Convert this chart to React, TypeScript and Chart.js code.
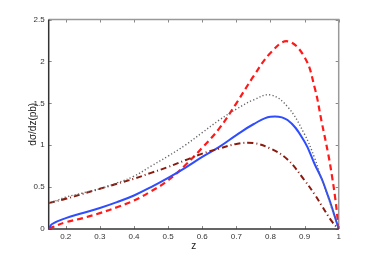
import React, { useEffect, useRef } from "react";
import { Chart, registerables } from "chart.js";

Chart.register(...registerables);

const zGrid = [0.15, 0.16, 0.2, 0.25, 0.3, 0.35, 0.4, 0.45, 0.5, 0.55, 0.6, 0.65, 0.7, 0.75, 0.8, 0.85, 0.9, 0.93, 0.95, 0.97, 0.98, 0.99, 1.0];
const redDashed = [0, 0.02, 0.08, 0.13, 0.19, 0.26, 0.34, 0.45, 0.58, 0.76, 0.97, 1.2, 1.5, 1.82, 2.1, 2.24, 2.05, 1.68, 1.28, 0.88, 0.64, 0.36, 0];
const blueSolid = [0, 0.06, 0.13, 0.19, 0.25, 0.32, 0.4, 0.5, 0.61, 0.73, 0.86, 0.98, 1.12, 1.25, 1.34, 1.3, 1.04, 0.77, 0.6, 0.38, 0.26, 0.13, 0];
const greyDotted = [0.31, 0.32, 0.38, 0.43, 0.48, 0.55, 0.63, 0.75, 0.87, 1.0, 1.15, 1.3, 1.43, 1.54, 1.6, 1.46, 1.13, 0.84, 0.6, 0.37, 0.24, 0.12, 0];
const darkDashDot = [0.31, 0.32, 0.36, 0.42, 0.48, 0.54, 0.6, 0.67, 0.74, 0.82, 0.9, 0.96, 1.015, 1.025, 0.96, 0.83, 0.58, 0.41, 0.28, 0.15, 0.09, 0.04, 0];

const xTicks = [0.2, 0.3, 0.4, 0.5, 0.6, 0.7, 0.8, 0.9, 1];
const yTicks = [0, 0.5, 1, 1.5, 2, 2.5];
const xTitle = "z";
const yTitle = "dσ/dz(pb)";

const pts = (vals: number[]) => zGrid.map((z, i) => ({ x: z, y: vals[i] }));

const framePlugin = {
  id: "frame",
  beforeDatasetsDraw(chart: any) {
    const { ctx, chartArea, scales } = chart;
    const { left, right, top, bottom } = chartArea;
    ctx.save();
    ctx.lineWidth = 1;
    ctx.strokeStyle = "#888";
    const tl = 3;
    xTicks.forEach((v) => {
      const px = Math.round(scales.x.getPixelForValue(v)) + 0.5;
      ctx.beginPath();
      ctx.moveTo(px, bottom);
      ctx.lineTo(px, bottom - tl);
      ctx.moveTo(px, top);
      ctx.lineTo(px, top + tl);
      ctx.stroke();
    });
    yTicks.forEach((v) => {
      const py = Math.round(scales.y.getPixelForValue(v)) + 0.5;
      ctx.beginPath();
      ctx.moveTo(left, py);
      ctx.lineTo(left + tl, py);
      ctx.moveTo(right, py);
      ctx.lineTo(right - tl, py);
      ctx.stroke();
    });
    ctx.strokeStyle = "#999";
    ctx.lineWidth = 1.5;
    ctx.beginPath();
    ctx.moveTo(left, top);
    ctx.lineTo(right, top);
    ctx.lineTo(right, bottom);
    ctx.stroke();
    ctx.strokeStyle = "#333";
    ctx.beginPath();
    ctx.moveTo(left, top);
    ctx.lineTo(left, bottom);
    ctx.lineTo(right, bottom);
    ctx.stroke();
    ctx.restore();
  },
};

export default function App() {
  const ref = useRef<HTMLCanvasElement | null>(null);
  useEffect(() => {
    if (!ref.current) return;
    const font = { family: "'Liberation Sans', Arial, sans-serif", size: 8 };
    const chart = new Chart(ref.current, {
      type: "line",
      data: {
        datasets: [
          {
            data: pts(greyDotted),
            borderColor: "#666",
            borderWidth: 1.4,
            borderDash: [1.2, 2.2],
            pointRadius: 0,
            tension: 0.4,
          },
          {
            data: pts(darkDashDot),
            borderColor: "#8a1a0e",
            borderWidth: 2,
            borderDash: [6, 3, 1, 3],
            pointRadius: 0,
            tension: 0.4,
          },
          {
            data: pts(blueSolid),
            borderColor: "#2e4dff",
            borderWidth: 2,
            pointRadius: 0,
            tension: 0.4,
          },
          {
            data: pts(redDashed),
            borderColor: "#ff1a1a",
            borderWidth: 2.2,
            borderDash: [6, 4],
            pointRadius: 0,
            tension: 0.4,
          },
        ],
      } as any,
      options: {
        animation: false,
        responsive: false,
        maintainAspectRatio: false,
        layout: { padding: { top: 19.5, right: 35.3, bottom: 0, left: 0 } },
        plugins: { legend: { display: false }, tooltip: { enabled: false } },
        scales: {
          x: {
            type: "linear",
            min: 0.15,
            max: 1,
            afterBuildTicks: (s: any) => {
              s.ticks = xTicks.map((v) => ({ value: v }));
            },
            afterFit: (s: any) => {
              s.height = 29;
            },
            grid: { display: false, drawTicks: false },
            border: { display: false },
            ticks: {
              font,
              color: "#333",
              padding: 3,
              maxRotation: 0,
              autoSkip: false,
              callback: (v: any) => String(Math.round(Number(v) * 10) / 10),
            },
            title: {
              display: true,
              text: xTitle,
              color: "#222",
              font: { family: "'Liberation Sans', Arial, sans-serif", size: 10 },
              padding: { top: 0, bottom: 6 },
            },
          },
          y: {
            type: "linear",
            min: 0,
            max: 2.5,
            afterBuildTicks: (s: any) => {
              s.ticks = yTicks.map((v) => ({ value: v }));
            },
            afterFit: (s: any) => {
              s.width = 48.7;
            },
            grid: { display: false, drawTicks: false },
            border: { display: false },
            ticks: {
              font,
              color: "#333",
              padding: 4,
              autoSkip: false,
              callback: (v: any) => String(v),
            },
            title: {
              display: true,
              text: yTitle,
              color: "#222",
              font: { family: "'Liberation Sans', Arial, sans-serif", size: 10 },
              padding: { top: 27, bottom: 0 },
            },
          },
        },
      } as any,
      plugins: [framePlugin],
    });
    return () => chart.destroy();
  }, []);
  return (
    <div style={{ position: "fixed", left: 0, top: 0, width: 374, height: 258, background: "#fff" }}>
      <canvas ref={ref} width={374} height={258} style={{ width: 374, height: 258 }} />
    </div>
  );
}
